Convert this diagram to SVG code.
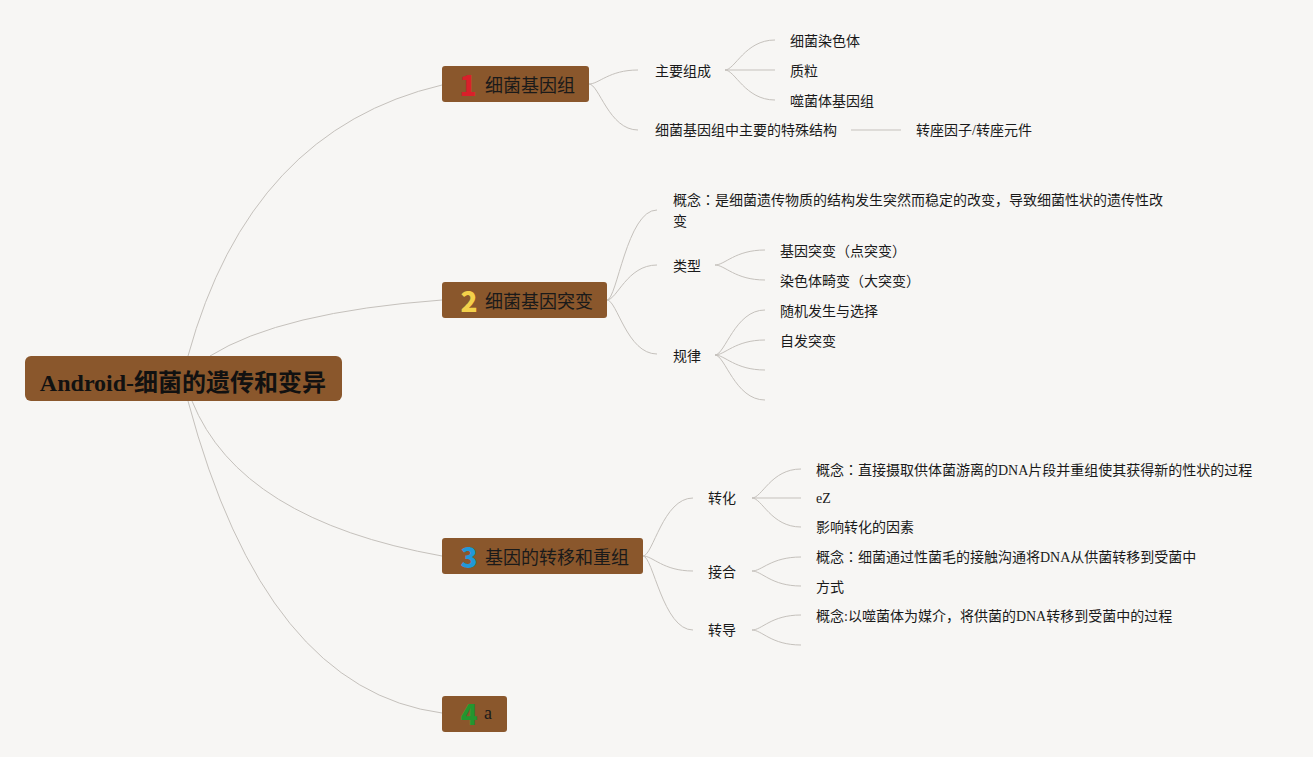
<svg xmlns="http://www.w3.org/2000/svg" width="1313" height="757" viewBox="0 0 1313 757">
<style>
.bg{fill:#f7f6f4}
.node{fill:#8a572c}
.lines path{fill:none;stroke:#c5c1bc;stroke-width:1}
.t{font-family:"Liberation Serif","Noto Sans CJK SC",sans-serif;font-size:14px;fill:#1a1a1a}
.nt{font-family:"Liberation Serif","Noto Sans CJK SC",sans-serif;font-size:18px;fill:#1a1a1a}
.num{font-family:"Noto Sans CJK SC",sans-serif;font-weight:900;font-size:28px;text-anchor:middle}
.root{font-family:"Liberation Serif","Noto Sans CJK SC",sans-serif;font-weight:bold;font-size:24px;fill:#111;text-anchor:middle}
.c{font-family:"Noto Sans CJK TC",sans-serif}
</style>
<rect class="bg" x="0" y="0" width="1313" height="757"/>
<g class="lines" id="connectors">
<path d="M188,356 Q250,130 442,85"/>
<path d="M210,356 Q280,312 442,300"/>
<path d="M192,401 Q240,520 442,556"/>
<path d="M188,401 Q265,690 442,713"/>
<path d="M589,84 C599,84 609,70 638,70"/>
<path d="M589,84 C599,84 609,130 638,130"/>
<path d="M725,70 C735,70 745,40 775,40"/>
<path d="M725,70 L775,70"/>
<path d="M725,70 C735,70 745,100 775,100"/>
<path d="M851,130 L901,130"/>
<path d="M607,300 C617,300 627,210 657,210"/>
<path d="M607,300 C617,300 627,265 657,265"/>
<path d="M607,300 C617,300 627,354 657,354"/>
<path d="M715,265 C725,265 735,250 765,250"/>
<path d="M715,265 C725,265 735,280 765,280"/>
<path d="M715,355 C725,355 735,310 765,310"/>
<path d="M715,355 C725,355 735,340 765,340"/>
<path d="M715,355 C725,355 735,370 765,370"/>
<path d="M715,355 C725,355 735,400 765,400"/>
<path d="M643,556 C653,556 663,498 693,498"/>
<path d="M643,556 C653,556 663,571 693,571"/>
<path d="M643,556 C653,556 663,630 693,630"/>
<path d="M752,498 C762,498 771,469 801,469"/>
<path d="M752,498 L801,498"/>
<path d="M752,498 C762,498 771,527 801,527"/>
<path d="M752,571 C762,571 771,557 801,557"/>
<path d="M752,571 C762,571 771,586 801,586"/>
<path d="M752,630 C762,630 771,615 801,615"/>
<path d="M752,630 C762,630 771,645 801,645"/>
</g>
<g id="root">
<rect class="node" x="25" y="356" width="317" height="45" rx="6"/>
<text class="root" x="183" y="391">Android-细菌的遗传和变异</text>
</g>
<g id="n1">
<rect class="node" x="442" y="66" width="147" height="36" rx="3"/>
<text class="num" x="468" y="96" fill="#d9202a">1</text>
<text class="nt" x="485" y="92">细菌基因组</text>
</g>
<g id="n2">
<rect class="node" x="442" y="282" width="165" height="36" rx="3"/>
<text class="num" x="469" y="312" fill="#f3d04a">2</text>
<text class="nt" x="485" y="308">细菌基因突变</text>
</g>
<g id="n3">
<rect class="node" x="442" y="538" width="201" height="36" rx="3"/>
<text class="num" x="469" y="568" fill="#2198d8">3</text>
<text class="nt" x="485" y="564">基因的转移和重组</text>
</g>
<g id="n4">
<rect class="node" x="442" y="696" width="65" height="36" rx="3"/>
<text class="num" x="469" y="725" fill="#23962f">4</text>
<text class="nt" x="484" y="719">a</text>
</g>
<g id="n1-children">
<text class="t" x="655" y="76">主要组成</text>
<text class="t" x="790" y="46">细菌染色体</text>
<text class="t" x="790" y="76">质粒</text>
<text class="t" x="790" y="106">噬菌体基因组</text>
<text class="t" x="655" y="135">细菌基因组中主要的特殊结构</text>
<text class="t" x="916" y="135">转座因子/转座元件</text>
</g>
<g id="n2-children">
<text class="t" x="673" y="205">概念<tspan class="c">：</tspan>是细菌遗传物质的结构发生突然而稳定的改变，导致细菌性状的遗传性改</text>
<text class="t" x="673" y="226">变</text>
<text class="t" x="673" y="271">类型</text>
<text class="t" x="780" y="256">基因突变（点突变）</text>
<text class="t" x="780" y="286">染色体畸变（大突变）</text>
<text class="t" x="673" y="361">规律</text>
<text class="t" x="780" y="316">随机发生与选择</text>
<text class="t" x="780" y="346">自发突变</text>
</g>
<g id="n3-children">
<text class="t" x="708" y="503">转化</text>
<text class="t" x="816" y="475">概念<tspan class="c">：</tspan>直接摄取供体菌游离的DNA片段并重组使其获得新的性状的过程</text>
<text class="t" x="816" y="503">eZ</text>
<text class="t" x="816" y="532">影响转化的因素</text>
<text class="t" x="708" y="577">接合</text>
<text class="t" x="816" y="562">概念<tspan class="c">：</tspan>细菌通过性菌毛的接触沟通将DNA从供菌转移到受菌中</text>
<text class="t" x="816" y="592">方式</text>
<text class="t" x="708" y="635">转导</text>
<text class="t" x="816" y="621">概念:以噬菌体为媒介，将供菌的DNA转移到受菌中的过程</text>
</g>
</svg>
